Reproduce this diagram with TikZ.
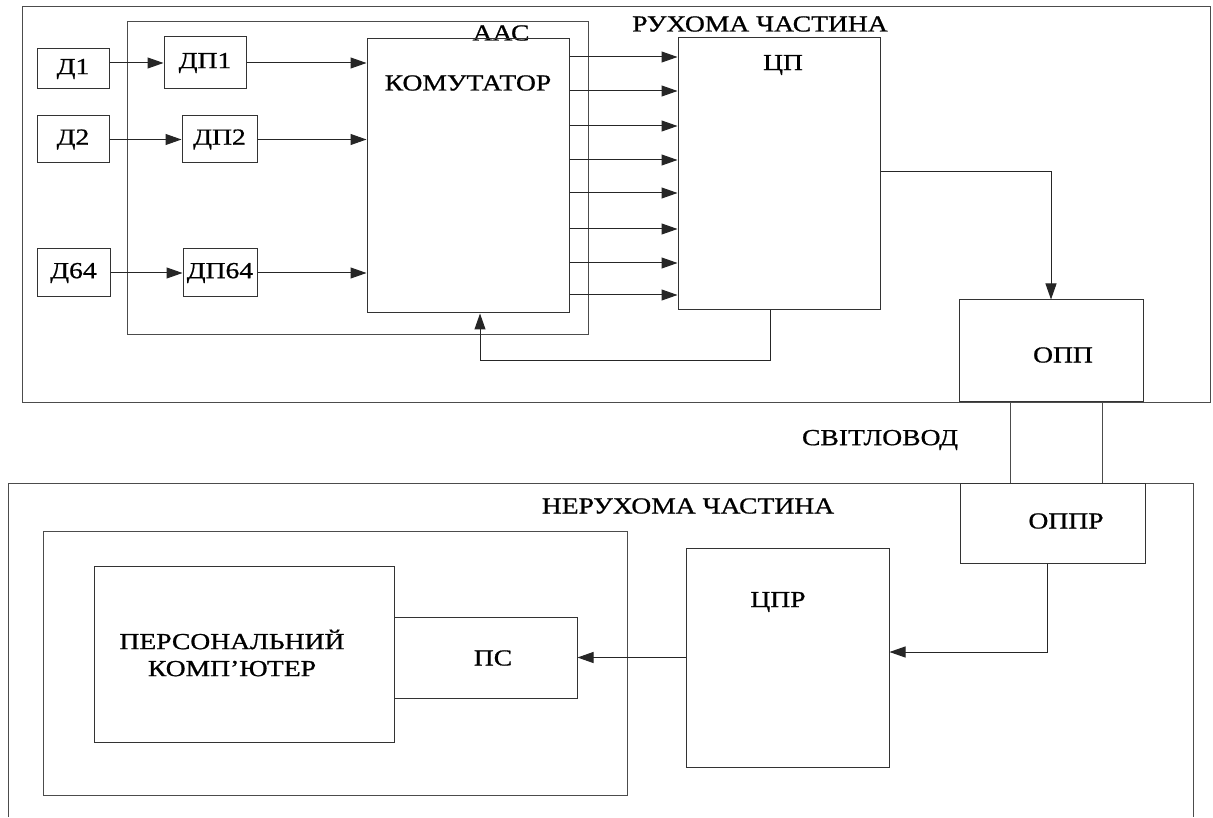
\documentclass[tikz,border=0pt]{standalone}
\usepackage{fontspec}
\setmainfont{Liberation Serif}[FakeStretch=1.2,FakeBold=0.8]
\usetikzlibrary{arrows.meta,calc}
\begin{document}
\begin{tikzpicture}[x=1pt,y=-1pt,
  box/.style={draw=black!80, line width=1pt, rectangle, inner sep=0pt},
  frame/.style={draw=black!70, line width=1pt},
  arr/.style={draw=black!85, line width=1pt, -{Triangle[length=16pt,width=11pt]}},
  lbl/.style={font=\fontsize{23}{27}\selectfont, inner sep=0pt, align=center},
  every node/.append style={font=\fontsize{23}{27}\selectfont}]
\useasboundingbox (0,0) rectangle (1213,818);

% frames
\draw[frame] (22,7) rectangle (1210,402);
\draw[frame] (127,22) rectangle (588,335);
\draw[frame] (8,817) -- (8,483) -- (1193,483) -- (1193,817);
\draw[frame] (43,531) rectangle (627,795);

% frame labels
\node[lbl] (rukh) at (760,24) {РУХОМА ЧАСТИНА};
\node[lbl] (aas) at (501,33) {ААС};
\node[lbl] (svit) at (880,440) {СВІТЛОВОД};
\node[lbl] (nerukh) at (688,506) {НЕРУХОМА ЧАСТИНА};

% sensors
\node[box, minimum width=72pt, minimum height=40pt] (d1) at (73,69) {Д1};
\node[box, minimum width=72pt, minimum height=47pt] (d2) at (73,139.5) {Д2};
\node[box, minimum width=73pt, minimum height=48pt] (d64) at (73.5,273) {Д64};
\node[box, minimum width=82pt, minimum height=52pt] (dp1) at (205,63) {ДП1};
\node[box, minimum width=75pt, minimum height=47pt] (dp2) at (219.5,139.5) {ДП2};
\node[box, minimum width=74pt, minimum height=48pt] (dp64) at (220,273) {ДП64};

% big blocks
\node[box, minimum width=202pt, minimum height=274pt] (kom) at (468,176) {};
\node[lbl] (komt) at (468,83) {КОМУТАТОР};
\node[box, minimum width=202pt, minimum height=272pt] (cp) at (779,174) {};
\node[lbl] (cpt) at (783,65) {ЦП};
\node[box, minimum width=184pt, minimum height=101pt] (opp) at (1051,350.5) {};
\node[lbl] (oppt) at (1063,355) {ОПП};
\node[box, minimum width=185pt, minimum height=80pt] (oppr) at (1052.5,523) {};
\node[lbl] (opprt) at (1066,521) {ОППР};
\node[box, minimum width=203pt, minimum height=219pt] (cpr) at (787.5,657.5) {};
\node[lbl] (cprt) at (778,602) {ЦПР};
\node[box, minimum width=300pt, minimum height=176pt] (pc) at (244,654) {};
\node[lbl] (pct) at (232,653) {ПЕРСОНАЛЬНИЙ\\КОМП'ЮТЕР};
\node[box, minimum width=183pt, minimum height=81pt] (ps) at (485.5,657.5) {};
\node[lbl] (pst) at (493,658) {ПС};

% sensor connections
\draw[arr] (d1.east |- dp1.west) -- (dp1.west);
\draw[arr] (dp1.east) -- (dp1.east -| kom.west);
\draw[arr] (d2.east) -- (dp2.west);
\draw[arr] (dp2.east) -- (dp2.east -| kom.west);
\draw[arr] (d64.east) -- (dp64.west);
\draw[arr] (dp64.east) -- (dp64.east -| kom.west);

% commutator to CP
\foreach \yy [count=\i] in {57,91,126,160,193,229,263,295} {
  \coordinate (k\i) at (0,\yy);
  \draw[arr] (kom.east |- k\i) -- (cp.west |- k\i);
}

% CP to OPP
\coordinate (c1) at (1051,172);
\draw[arr] (cp.east |- c1) -| (opp.north);

% feedback
\coordinate (fbR) at (770,360);
\coordinate (fbL) at (480,360);
\draw[arr] (cp.south -| fbR) -- (fbR) -- (fbL) -- (kom.south -| fbL);

% light guide
\coordinate (s1) at (1010,0);
\coordinate (s2) at (1102,0);
\draw[frame] (opp.south -| s1) -- (oppr.north -| s1);
\draw[frame] (opp.south -| s2) -- (oppr.north -| s2);

% OPPR to CPR
\coordinate (c2) at (1047,652);
\draw[arr] (oppr.south -| c2) |- (cpr.east |- c2);

% CPR to PS
\draw[arr] (cpr.west |- ps.east) -- (ps.east);
\end{tikzpicture}
\end{document}
